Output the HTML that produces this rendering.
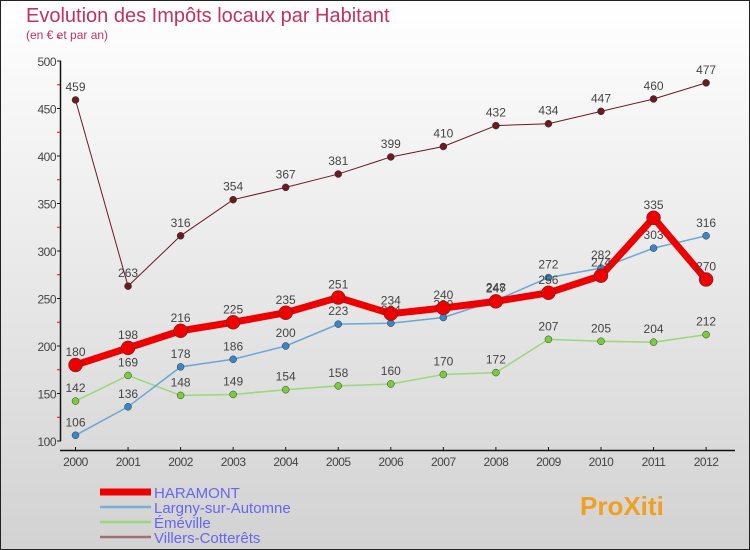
<!DOCTYPE html>
<html><head><meta charset="utf-8"><style>
body{margin:0}
#c{width:750px;height:550px;position:relative;box-sizing:border-box;border:1px solid #222;background:linear-gradient(#ffffff,#d2d2d2);font-family:"Liberation Sans",sans-serif;overflow:hidden}
</style></head><body>
<div id="c">
<svg id="s" width="750" height="550" style="position:absolute;left:-1px;top:-1px">
<text x="26" y="22" font-size="20" fill="#c0335f">Evolution des Impôts locaux par Habitant</text>
<text x="26" y="39" font-size="12" fill="#c0335f">(en € et par an)</text>
</svg>
</div>
<script>
const years=[2000,2001,2002,2003,2004,2005,2006,2007,2008,2009,2010,2011,2012];
const yTicks=[100,150,200,250,300,350,400,450,500];
const haramont=[180,198,216,225,235,251,234,240,247,256,274,335,270];
const largny=[106,136,178,186,200,223,224,230,248,272,282,303,316];
const emeville=[142,169,148,149,154,158,160,170,172,207,205,204,212];
const villers=[459,263,316,354,367,381,399,410,432,434,447,460,477];
const series=[
 {name:'villers',label:'Villers-Cotterêts',vals:villers,color:'#6b1a22',w:1,r:3.5,fill:'#6b1a22',leg:'#a07070'},
 {name:'emeville',label:'Éméville',vals:emeville,color:'#9ad87a',w:1.5,r:3.5,fill:'#7acc3c',leg:'#9ad87a'},
 {name:'largny',label:'Largny-sur-Automne',vals:largny,color:'#6aa6d6',w:1.5,r:3.5,fill:'#3a86c6',leg:'#7aaed6'},
 {name:'haramont',label:'HARAMONT',vals:haramont,color:'#ee0000',w:7,r:7,fill:'#ee0000',leg:'#ee0000'}
];
const NS='http://www.w3.org/2000/svg',s=document.getElementById('s');
const X=i=>75.5+i*52.55, Y=v=>441-(v-100)*0.95;
function el(t,a,p){const e=document.createElementNS(NS,t);for(const k in a)e.setAttribute(k,a[k]);(p||s).appendChild(e);return e;}
let ax=el('path',{d:'M60.5 61V441M60 450.5H735',stroke:'#111','stroke-width':1.5,fill:'none'});


yTicks.forEach(v=>{
 el('line',{x1:57,x2:61,y1:Y(v),y2:Y(v),stroke:'#111'});
 el('line',{x1:57,x2:60,y1:Y(v+25),y2:Y(v+25),stroke:'#f00'});
 const t=el('text',{x:56,y:Y(v)+5,'font-size':12,fill:'#444','text-anchor':'end','letter-spacing':'-0.5'});t.textContent=v;
 
 
});
years.forEach((yr,i)=>{
 el('line',{x1:X(i),x2:X(i),y1:447,y2:451,stroke:'#111'});
 const t=el('text',{x:X(i),y:466,'font-size':12,fill:'#444','text-anchor':'middle','letter-spacing':'-0.5'});t.textContent=yr;
 
 
});
series.forEach(sr=>{
 const g=el('g',{});
 
 
 el('polyline',{points:sr.vals.map((v,i)=>X(i)+','+Y(v)).join(' '),fill:'none',stroke:sr.color,'stroke-width':sr.w},g);
 sr.vals.forEach((v,i)=>{
  const c=el('circle',{cx:X(i),cy:Y(v),r:sr.r,fill:sr.fill,stroke:'#333','stroke-width':0.5},g);
  
  
  const t=el('text',{x:X(i),y:Y(v)-9,'font-size':12,fill:'#444','text-anchor':'middle'},g);t.textContent=v;
  
  
 });
});
const legOrder=[3,2,1,0];
legOrder.forEach((k,j)=>{
 const sr=series[k],y=492+j*15;
 const g=el('g',{});
 
 
 el('line',{x1:100,x2:151,y1:y,y2:y,stroke:sr.leg,'stroke-width':k==3?7:2.5},g);
 const t=el('text',{x:154,y:y+6,'font-size':15,fill:'#6666ee'},g);t.textContent=sr.label;
});
const p=el('text',{x:580,y:515,'font-size':26,'font-weight':'bold',fill:'#f0a020'});
p.textContent='ProXiti';


</script>
</body></html>
